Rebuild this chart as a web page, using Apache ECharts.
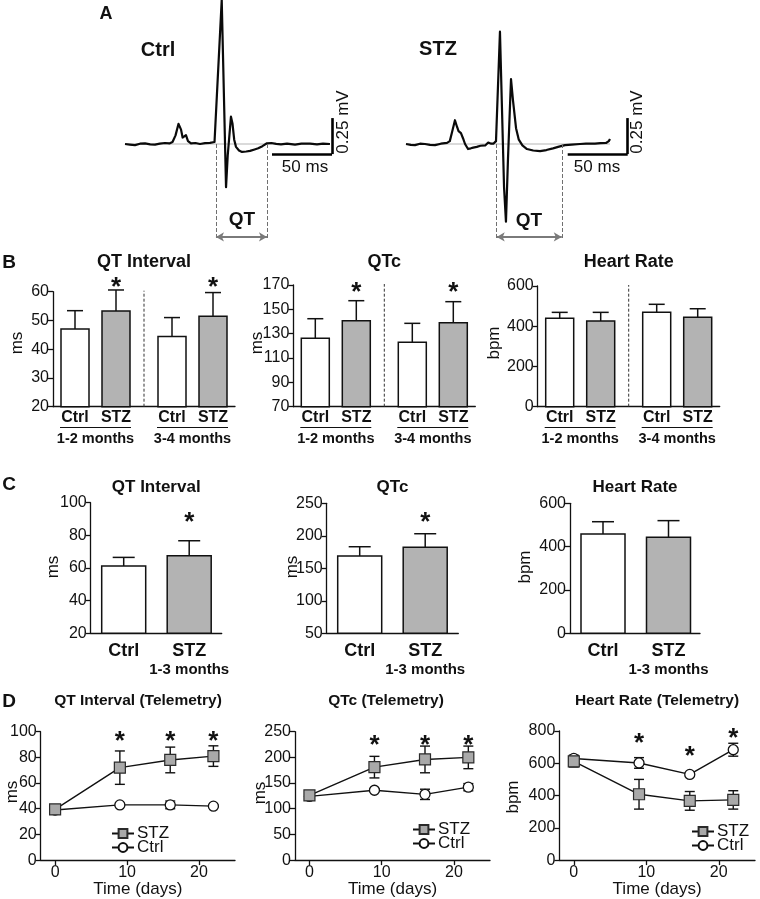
<!DOCTYPE html>
<html>
<head>
<meta charset="utf-8">
<script src="https://cdn.jsdelivr.net/npm/echarts@6.0.0/dist/echarts.min.js"></script>
<style>
html,body{margin:0;padding:0;background:#ffffff;}
#chart{width:760px;height:899px;}
</style>
</head>
<body>
<div id="chart"></div>
<script>
// ================= DATA =================
// Panel A: representative ECG traces, [time (ms), amplitude (mV)]
const ecgCtrl = [[0,0],[4,-0.004],[8.3,-0.008],[12.5,0.002],[16.7,0.004],[21,-0.003],[25,-0.004],[29,0.003],[33.3,0.007],[37,0.004],[39.6,0.014],[42.1,0.06],[44.6,0.14],[46.7,0.1],[48,0.045],[49.6,0.04],[50.8,0.062],[52.5,0.02],[55,0.004],[58.7,0.007],[62.5,0],[66.7,0.006],[70.8,0.008],[74.6,0.014],[80.6,1.0],[84.2,-0.3],[85.6,-0.08],[88.3,0.19],[89.6,0.14],[91,0.03],[92.5,-0.02],[95,-0.045],[97.5,-0.055],[101,-0.052],[104.2,-0.048],[108,-0.038],[111,-0.03],[114.5,-0.015],[118.3,0.005],[122,0.007],[126,0.001],[130,-0.002],[135,0.003],[141.7,-0.004],[147,0.002],[154.2,0.003],[160,-0.003],[165,0.002],[170.8,0]];
const ecgSTZ = [[0,0],[4,-0.006],[7.5,-0.008],[11.7,0.002],[15.8,0],[20,-0.006],[24.2,-0.008],[29,0.002],[34.2,0.008],[36.5,0.02],[38.3,0.08],[40.8,0.165],[42.5,0.12],[43.8,0.09],[45.8,0.076],[47.5,0.04],[49.2,0.0],[51.7,-0.035],[54,-0.03],[56,-0.025],[59,-0.02],[62,-0.012],[66,-0.01],[68.5,0.01],[69.6,0.016],[71,0.002],[73,0.003],[75,0.02],[78.3,0.78],[81.7,-0.3],[83.3,-0.54],[85,-0.1],[87.5,0.45],[89.2,0.3],[91.7,0.11],[94,0.03],[97,-0.01],[100.8,-0.035],[106,-0.045],[111.7,-0.05],[117,-0.042],[122.5,-0.03],[127.5,-0.018],[132.5,-0.008],[138,-0.004],[145,0],[150,0.003],[157.5,0.002],[162,0.006],[166.7,0.007],[169,0.02],[170,0.035]];
const qtMarkCtrl = [75.8, 118.3];   // QT start / end (ms)
const qtMarkSTZ = [75.6, 129.8];
const scaleMs = 50;                 // scale bar: 50 ms
const scaleMv = 0.25;               // scale bar: 0.25 mV

// Panel B (bars: mean, error = SD upper arm, star = asterisk height)
const catB = ['Ctrl', 'STZ', 'Ctrl', 'STZ'];
const periodB = ['1-2 months', '3-4 months'];
const qtB = [47.0, 53.3, 44.4, 51.5];
const qtBErr = [6.4, 7.3, 6.6, 8.2];
const qtBStar = [null, 63.5, null, 63.5];
const qtcB = [126.2, 140.7, 122.9, 139.0];
const qtcBErr = [16.1, 16.4, 15.6, 17.3];
const qtcBStar = [null, 168.6, null, 168.6];
const hrB = [440, 426, 469, 445];
const hrBErr = [29, 43, 40, 42];
const hrBStar = [null, null, null, null];

// Panel C
const catC = ['Ctrl', 'STZ'];
const periodC = '1-3 months';
const qtC = [61.2, 67.5];
const qtCErr = [5.3, 9.2];
const qtCStar = [null, 91.4];
const qtcC = [169, 182.3];
const qtcCErr = [14.2, 20.9];
const qtcCStar = [null, 229.4];
const hrC = [458, 443];
const hrCErr = [57, 77];
const hrCStar = [null, null];

// Panel D (telemetry time course)
const days = [0, 9, 16, 22];
const dayTicks = [0, 10, 20];
const qtD_STZ = [39.5, 72, 78, 81];
const qtD_STZErr = [2, 13, 10, 8];
const qtD_Ctrl = [39, 43, 43, 42];
const qtD_CtrlErr = [1, 1, 3, 1];
const qtD_Star = [null, 96.5, 96.5, 96.5];
const qtcD_STZ = [126, 181, 196, 200];
const qtcD_STZErr = [5, 21, 26, 22];
const qtcD_Ctrl = [124, 136, 128, 142];
const qtcD_CtrlErr = [3, 3, 10, 7];
const qtcD_Star = [null, 234, 234, 234];
const hrD_STZ = [612, 408, 367, 373];
const hrD_STZErr = [35, 92, 58, 57];
const hrD_Ctrl = [630, 602, 531, 684];
const hrD_CtrlErr = [20, 33, 8, 40];
const hrD_Star = [null, 757, 680, 790];

// ================= STYLE / LAYOUT =================
const FONT = '"Liberation Sans", Arial, Helvetica, sans-serif';
const INK = '#111111';
const FILL_STZ = '#b3b3b3';
const AXW = 1.3;

const grids = [], xAxes = [], yAxes = [], series = [], graphics = [], legends = [];
function addGrid(g){ grids.push({left:g.left, top:g.top, width:g.width, height:g.height, containLabel:false}); return grids.length - 1; }

function txt(x, y, text, size, bold, extra){
  graphics.push(Object.assign({type:'text', x:x, y:y, silent:true, z:10,
    style:{text:text, font:(bold ? 'bold ' : '') + size + 'px ' + FONT, fill:INK, align:'center', verticalAlign:'middle'}}, extra || {}));
}
function hline(x1, x2, y, w){
  graphics.push({type:'line', silent:true, z:10, shape:{x1:x1, y1:y, x2:x2, y2:y}, style:{stroke:INK, lineWidth:w || 1}});
}

// ---------- Panel A ----------
function ecgPanel(left, trace, qt, barEnd){
  const gi = addGrid({left:left, top:0, width:240, height:244.8});
  xAxes.push({gridIndex:gi, type:'value', min:0, max:200, show:false});
  yAxes.push({gridIndex:gi, type:'value', min:-0.7, max:1.0, show:false});
  const t0 = trace[0][0], t1 = trace[trace.length-1][0];
  // grey isoelectric line
  series.push({type:'line', xAxisIndex:gi, yAxisIndex:gi, silent:true, symbol:'none', z:1,
    data:[[t0, 0], [t1, 0]], lineStyle:{color:'#b5b5b5', width:1.2}});
  const vb = -0.07;
  const dash = {color:'#707070', width:1, type:[4,2]};
  const bar = {color:'#000', width:2.6, type:'solid'};
  const arrowStyle = {color:'#7a7a7a', width:2, type:'solid'};
  series.push({type:'line', xAxisIndex:gi, yAxisIndex:gi, silent:true, symbol:'none', z:3,
    data:trace, lineStyle:{color:'#0a0a0a', width:2.2, join:'round'},
    markLine:{silent:true, symbol:'none', label:{show:false}, animation:false, emphasis:{disabled:true},
      data:[
        [{coord:[qt[0], 0], lineStyle:dash}, {coord:[qt[0], -0.655]}],
        [{coord:[qt[1], 0], lineStyle:dash}, {coord:[qt[1], -0.655]}],
        [{coord:[qt[0], -0.645], lineStyle:arrowStyle, symbol:'arrow', symbolSize:[7,8]}, {coord:[qt[1], -0.645], symbol:'arrow', symbolSize:[7,8]}],
        [{coord:[barEnd - scaleMs, vb], lineStyle:bar}, {coord:[barEnd, vb]}],
        [{coord:[barEnd, vb], lineStyle:bar}, {coord:[barEnd, vb + scaleMv]}]
      ]}});
}
ecgPanel(125, ecgCtrl, qtMarkCtrl, 172.5);
ecgPanel(406, ecgSTZ, qtMarkSTZ, 184.75);
txt(106, 14, 'A', 18, true);
txt(158, 50, 'Ctrl', 20, true);
txt(438, 49, 'STZ', 20, true);
txt(242, 220, 'QT', 19, true);
txt(529, 221, 'QT', 19, true);
txt(305, 167, '50 ms', 17, false);
txt(597, 167, '50 ms', 17, false);
txt(343, 122, '0.25 mV', 17, false, {rotation:Math.PI/2});
txt(637, 122, '0.25 mV', 17, false, {rotation:Math.PI/2});

// ---------- helpers for bar panels ----------
function yAx(gi, min, max, interval, fs){
  return {gridIndex:gi, type:'value', min:min, max:max, interval:interval,
    axisLine:{show:true, onZero:false, lineStyle:{color:INK, width:AXW}},
    axisTick:{show:true, length:5, lineStyle:{color:INK, width:AXW}},
    axisLabel:{color:INK, fontSize:fs, fontFamily:FONT, margin:4},
    splitLine:{show:false}};
}
function barRender(yMin, barW, capW){
  return function(params, api){
    const x = api.value(0), m = api.value(1), e = api.value(2), kind = api.value(3);
    const p0 = api.coord([x, yMin]), p1 = api.coord([x, m]), p2 = api.coord([x, m + e]);
    return {type:'group', children:[
      {type:'line', shape:{x1:p1[0], y1:p1[1], x2:p2[0], y2:p2[1]}, style:{stroke:INK, lineWidth:1.5}},
      {type:'line', shape:{x1:p2[0]-capW/2, y1:p2[1], x2:p2[0]+capW/2, y2:p2[1]}, style:{stroke:INK, lineWidth:1.5}},
      {type:'rect', shape:{x:p1[0]-barW/2, y:p1[1], width:barW, height:p0[1]-p1[1]}, style:{fill:kind ? FILL_STZ : '#ffffff', stroke:INK, lineWidth:1.5}}
    ]};
  };
}
const STAR_FS = 26;
function starRender(params, api){
  const p = api.coord([api.value(0), api.value(1)]);
  return {type:'text', x:p[0], y:p[1] + 0.23 * STAR_FS, style:{text:'*', font:'bold ' + STAR_FS + 'px ' + FONT, fill:INK, align:'center', verticalAlign:'middle'}};
}
function sepRender(yMin, yMax){
  return function(params, api){
    const a = api.coord([api.value(0), yMin]), b = api.coord([api.value(0), yMax]);
    return {type:'line', shape:{x1:a[0], y1:a[1], x2:b[0], y2:b[1] - 1}, style:{stroke:'#333', lineWidth:1, lineDash:[3,2]}};
  };
}
function starSeries(gi, xs, stars){
  const d = [];
  stars.forEach(function(s, i){ if (s != null) d.push([xs[i], s]); });
  if (d.length) series.push({type:'custom', xAxisIndex:gi, yAxisIndex:gi, silent:true, z:5, renderItem:starRender, data:d});
}

function barPanel(L, yr, cats, means, errs, stars, slots, barW, capW, xLabel, sep){
  const gi = addGrid(L);
  xAxes.push({gridIndex:gi, type:'value', min:0, max:L.width,
    axisLine:{show:true, onZero:false, lineStyle:{color:INK, width:AXW}},
    axisTick:{show:false}, splitLine:{show:false},
    axisLabel:Object.assign({customValues:slots, color:INK, fontFamily:FONT, fontWeight:'bold'}, xLabel)});
  yAxes.push(yAx(gi, yr[0], yr[1], yr[2], 16));
  series.push({type:'custom', xAxisIndex:gi, yAxisIndex:gi, silent:true, z:2,
    renderItem:barRender(yr[0], barW, capW),
    data:cats.map(function(c, i){ return [slots[i], means[i], errs[i], c === 'STZ' ? 1 : 0]; })});
  if (sep != null) series.push({type:'custom', xAxisIndex:gi, yAxisIndex:gi, silent:true, z:1,
    renderItem:sepRender(yr[0], yr[1]), data:[[sep]]});
  starSeries(gi, slots, stars);
  return gi;
}
function nearestIdx(arr, v){ let b = 0; arr.forEach(function(a, i){ if (Math.abs(a - v) < Math.abs(arr[b] - v)) b = i; }); return b; }

// ---------- Panel B ----------
const layoutB = [
  {left:53, top:291.7, width:182, height:115},
  {left:293.3, top:285, width:182, height:121.7},
  {left:537.7, top:286, width:182, height:120.7}];
const slotsB = [22, 63, 119, 160], sepB = 91, barWB = 28, capWB = 16;
const xLabB = {fontSize:16, margin:3, formatter:function(v){ return catB[nearestIdx(slotsB, v)]; }};
barPanel(layoutB[0], [20, 60, 10], catB, qtB, qtBErr, qtBStar, slotsB, barWB, capWB, xLabB, sepB);
barPanel(layoutB[1], [70, 170, 20], catB, qtcB, qtcBErr, qtcBStar, slotsB, barWB, capWB, xLabB, sepB);
barPanel(layoutB[2], [0, 600, 200], catB, hrB, hrBErr, hrBStar, slotsB, barWB, capWB, xLabB, sepB);
txt(9, 263, 'B', 19, true);
const titlesB = ['QT Interval', 'QTc', 'Heart Rate'];
const ynB = ['ms', 'ms', 'bpm'], ynBx = [17, 257, 494];
layoutB.forEach(function(L, k){
  txt(L.left + L.width/2, 262, titlesB[k], 18, true);
  txt(ynBx[k], 343, ynB[k], 17, false, {rotation:Math.PI/2});
  for (let g = 0; g < 2; g++){
    const xa = L.left + slotsB[2*g] - barWB/2 - 1, xb = L.left + slotsB[2*g+1] + barWB/2 + 1;
    hline(xa, xb, 427.5, 1);
    txt((xa + xb)/2, 438.5, periodB[g], 14.5, true);
  }
});

// ---------- Panel C ----------
const layoutC = [
  {left:90.7, top:502.7, width:131, height:130.6},
  {left:326.7, top:503.3, width:131.6, height:130},
  {left:570, top:503.3, width:130, height:130}];
const slotsC = [33, 98.5], barWC = 44, capWC = 22;
const xLabC = {margin:8, formatter:function(v){ const i = nearestIdx(slotsC, v); return catC[i] === 'STZ' ? '{a|' + catC[i] + '}\n{b|' + periodC + '}' : '{a|' + catC[i] + '}'; },
  rich:{a:{fontSize:18, fontWeight:'bold', fontFamily:FONT, color:INK, lineHeight:20, align:'center'}, b:{fontSize:15, fontWeight:'bold', fontFamily:FONT, color:INK, lineHeight:17, align:'center'}}};
barPanel(layoutC[0], [20, 100, 20], catC, qtC, qtCErr, qtCStar, slotsC, barWC, capWC, xLabC, null);
barPanel(layoutC[1], [50, 250, 50], catC, qtcC, qtcCErr, qtcCStar, slotsC, barWC, capWC, xLabC, null);
barPanel(layoutC[2], [0, 600, 200], catC, hrC, hrCErr, hrCStar, slotsC, barWC, capWC, xLabC, null);
txt(9, 485, 'C', 19, true);
const titlesC = ['QT Interval', 'QTc', 'Heart Rate'];
const ynC = ['ms', 'ms', 'bpm'], ynCx = [53, 292, 525];
layoutC.forEach(function(L, k){
  txt(L.left + L.width/2, 487, titlesC[k], 17, true);
  txt(ynCx[k], 567, ynC[k], 17, false, {rotation:Math.PI/2});
});

// ---------- Panel D ----------
function errRender(capW){
  return function(params, api){
    const x = api.value(0), m = api.value(1), e = api.value(2);
    const a = api.coord([x, m - e]), b = api.coord([x, m + e]);
    return {type:'group', children:[
      {type:'line', shape:{x1:a[0], y1:a[1], x2:b[0], y2:b[1]}, style:{stroke:INK, lineWidth:1.4}},
      {type:'line', shape:{x1:a[0]-capW/2, y1:a[1], x2:a[0]+capW/2, y2:a[1]}, style:{stroke:INK, lineWidth:1.4}},
      {type:'line', shape:{x1:b[0]-capW/2, y1:b[1], x2:b[0]+capW/2, y2:b[1]}, style:{stroke:INK, lineWidth:1.4}}
    ]};
  };
}
const layoutD = [
  {left:40.7, top:731.7, width:194.3, height:130},
  {left:295, top:731.7, width:195, height:130},
  {left:559.3, top:731, width:195.7, height:130.7}];
function linePanel(L, yr, stz, stzErr, ctrl, ctrlErr, stars, legPos){
  const gi = addGrid(L);
  xAxes.push({gridIndex:gi, type:'value', min:-2, max:25,
    axisLine:{show:true, onZero:false, lineStyle:{color:INK, width:AXW}},
    axisTick:{show:true, length:5, customValues:dayTicks, lineStyle:{color:INK, width:AXW}},
    axisLabel:{customValues:dayTicks, color:INK, fontSize:16, fontFamily:FONT, margin:4},
    splitLine:{show:false},
    name:'Time (days)', nameLocation:'middle', nameGap:18,
    nameTextStyle:{color:INK, fontSize:17, fontFamily:FONT}});
  yAxes.push(yAx(gi, yr[0], yr[1], yr[2], 16));
  series.push({type:'custom', xAxisIndex:gi, yAxisIndex:gi, silent:true, z:1, renderItem:errRender(10),
    data:days.map(function(d, i){ return [d, ctrl[i], ctrlErr[i]]; })});
  series.push({type:'custom', xAxisIndex:gi, yAxisIndex:gi, silent:true, z:1, renderItem:errRender(10),
    data:days.map(function(d, i){ return [d, stz[i], stzErr[i]]; })});
  series.push({type:'line', name:'Ctrl', xAxisIndex:gi, yAxisIndex:gi, z:2, silent:true,
    symbol:'circle', symbolSize:10, showSymbol:true,
    itemStyle:{color:'#ffffff', borderColor:INK, borderWidth:1.3},
    lineStyle:{color:INK, width:1.4},
    data:days.map(function(d, i){ return [d, ctrl[i]]; })});
  series.push({type:'line', name:'STZ', xAxisIndex:gi, yAxisIndex:gi, z:3, silent:true,
    symbol:'rect', symbolSize:11, showSymbol:true,
    itemStyle:{color:'#a9a9a9', borderColor:'#2a2a2a', borderWidth:1.2},
    lineStyle:{color:INK, width:1.4},
    data:days.map(function(d, i){ return [d, stz[i]]; })});
  starSeries(gi, days, stars);
  const common = {orient:'vertical', padding:0, itemGap:0, itemWidth:22, itemHeight:11, selectedMode:false,
    textStyle:{color:INK, fontSize:17, fontFamily:FONT, lineHeight:16, padding:[0,0,0,-2]}};
  legends.push(Object.assign({data:['STZ'], left:legPos[0], top:legPos[1]}, common));
  legends.push(Object.assign({data:['Ctrl'], left:legPos[0], top:legPos[2]}, common));
}
linePanel(layoutD[0], [0, 100, 20], qtD_STZ, qtD_STZErr, qtD_Ctrl, qtD_CtrlErr, qtD_Star, [111, 825, 839]);
linePanel(layoutD[1], [0, 250, 50], qtcD_STZ, qtcD_STZErr, qtcD_Ctrl, qtcD_CtrlErr, qtcD_Star, [412, 821, 835]);
linePanel(layoutD[2], [0, 800, 200], hrD_STZ, hrD_STZErr, hrD_Ctrl, hrD_CtrlErr, hrD_Star, [691, 823, 837]);
txt(9, 702, 'D', 19, true);
const titlesD = ['QT Interval (Telemetry)', 'QTc (Telemetry)', 'Heart Rate (Telemetry)'];
const titleDx = [138, 386, 657];
const ynD = ['ms', 'ms', 'bpm'], ynDx = [12, 260, 513], ynDy = [792, 793, 797];
titlesD.forEach(function(t, k){
  txt(titleDx[k], 701, t, 15.5, true);
  txt(ynDx[k], ynDy[k], ynD[k], 17, false, {rotation:Math.PI/2});
});

// ================= RENDER =================
const chart = echarts.init(document.getElementById('chart'), null, {renderer:'canvas'});
chart.setOption({
  animation:false,
  backgroundColor:'#ffffff',
  textStyle:{fontFamily:FONT},
  grid:grids, xAxis:xAxes, yAxis:yAxes, series:series, legend:legends,
  graphic:{elements:graphics}
});
</script>
</body>
</html>
